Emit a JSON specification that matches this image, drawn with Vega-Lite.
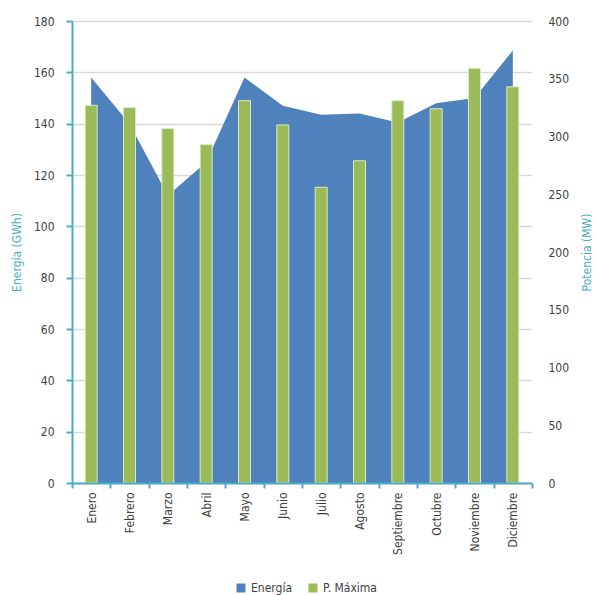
{
  "$schema": "https://vega.github.io/schema/vega-lite/v6.json",
  "width": 460,
  "height": 462,
  "autosize": {"type": "none"},
  "padding": {"left": 72, "top": 21, "right": 64, "bottom": 112},
  "background": "white",
  "config": {
    "view": {"stroke": null},
    "font": "DejaVu Sans Condensed, Liberation Sans, sans-serif",
    "axis": {
      "labelFont": "DejaVu Sans Condensed, Liberation Sans, sans-serif",
      "labelFontSize": 12,
      "labelColor": "#404040",
      "titleFont": "DejaVu Sans Condensed, Liberation Sans, sans-serif",
      "titleFontWeight": "normal",
      "titleFontSize": 12,
      "titleColor": "#4BACC6"
    },
    "legend": {
      "labelFont": "DejaVu Sans Condensed, Liberation Sans, sans-serif",
      "labelFontSize": 12,
      "labelColor": "#404040"
    }
  },
  "data": {
    "values": [
      {"mes": "Enero", "energia": 158, "potencia": 327},
      {"mes": "Febrero", "energia": 140, "potencia": 325},
      {"mes": "Marzo", "energia": 112, "potencia": 307},
      {"mes": "Abril", "energia": 125, "potencia": 293},
      {"mes": "Mayo", "energia": 158, "potencia": 331},
      {"mes": "Junio", "energia": 147, "potencia": 310},
      {"mes": "Julio", "energia": 143.5, "potencia": 256},
      {"mes": "Agosto", "energia": 144, "potencia": 279},
      {"mes": "Septiembre", "energia": 140.5, "potencia": 331},
      {"mes": "Octubre", "energia": 148, "potencia": 324},
      {"mes": "Noviembre", "energia": 150, "potencia": 359},
      {"mes": "Diciembre", "energia": 168.5, "potencia": 343}
    ]
  },
  "encoding": {
    "x": {
      "field": "mes",
      "type": "nominal",
      "sort": null,
      "title": null,
      "scale": {"type": "band", "paddingInner": 0, "paddingOuter": 0},
      "axis": {
        "labelAngle": -90,
        "labelAlign": "right",
        "labelBaseline": "middle",
        "tickBand": "extent",
        "domainColor": "#4BACC6",
        "domainWidth": 2,
        "tickColor": "#4BACC6",
        "tickWidth": 2,
        "tickSize": 5,
        "labelPadding": 4,
        "grid": false,
        "zindex": 1
      }
    }
  },
  "layer": [
    {
      "mark": {"type": "area", "opacity": 1, "interpolate": "linear"},
      "encoding": {
        "y": {
          "field": "energia",
          "type": "quantitative",
          "scale": {"domain": [0, 180], "nice": false},
          "axis": {
            "values": [0, 20, 40, 60, 80, 100, 120, 140, 160, 180],
            "title": "Energía (GWh)",
            "titlePadding": 10,
            "domainColor": "#4BACC6",
            "domainWidth": 2,
            "tickColor": "#4BACC6",
            "tickWidth": 2,
            "tickSize": 6,
            "labelPadding": 12,
            "grid": true,
            "gridColor": "#D9D9D9",
            "gridWidth": 1.5
          }
        },
        "color": {
          "datum": "Energía",
          "type": "nominal",
          "scale": {"domain": ["Energía", "P. Máxima"], "range": ["#4F81BD", "#9BBB59"]},
          "legend": {
            "title": null,
            "orient": "none",
            "direction": "horizontal",
            "legendX": 163,
            "legendY": 561,
            "symbolType": "square",
            "symbolSize": 81,
            "symbolStrokeWidth": 0,
            "symbolOpacity": 1,
            "labelOffset": 4,
            "columnPadding": 14
          }
        }
      }
    },
    {
      "mark": {"type": "bar", "size": 12, "stroke": "#DCE8C6", "strokeWidth": 1},
      "encoding": {
        "y": {
          "field": "potencia",
          "type": "quantitative",
          "scale": {"domain": [0, 400], "nice": false},
          "axis": {
            "orient": "right",
            "values": [0, 50, 100, 150, 200, 250, 300, 350, 400],
            "title": "Potencia (MW)",
            "titleAngle": -90,
            "titleBaseline": "top",
            "titlePadding": 13,
            "domain": false,
            "ticks": false,
            "grid": false,
            "labelPadding": 16,
            "labelAlign": "left"
          }
        },
        "color": {"datum": "P. Máxima", "type": "nominal"}
      }
    }
  ],
  "resolve": {"scale": {"y": "independent"}}
}
